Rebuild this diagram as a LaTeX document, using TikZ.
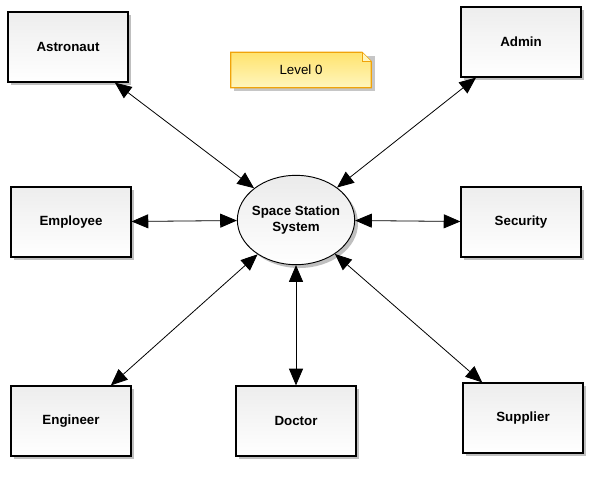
\documentclass[tikz,border=0pt]{standalone}
\usepackage{fontspec}
\setmainfont{Liberation Sans}
\usepackage{xcolor}
\usetikzlibrary{positioning,shapes.geometric,shadows,arrows.meta}

\definecolor{noteyellow}{HTML}{FFE36E}
\definecolor{notelight}{HTML}{FFF6BE}
\definecolor{noteorange}{HTML}{F0A30A}

\begin{document}
\begin{tikzpicture}[x=0.75pt, y=-0.75pt,
    entity/.style={rectangle, draw, line width=0.9pt, top color=gray!14, bottom color=white,
        minimum width=90pt, minimum height=52.5pt, font=\bfseries,
        drop shadow={shadow xshift=2.5pt, shadow yshift=-2.5pt, fill=gray, opacity=0.5}},
    process/.style={ellipse, draw, line width=0.7pt, top color=gray!16, bottom color=white,
        minimum width=88pt, minimum height=67pt, inner sep=-3.5pt, align=center, font=\bfseries,
        drop shadow={shadow xshift=2.5pt, shadow yshift=-2.5pt, fill=gray, opacity=0.5}},
    flow/.style={{Triangle[length=12.5pt,width=10.5pt]}-{Triangle[length=12.5pt,width=10.5pt]}, line width=0.6pt}]

    \useasboundingbox (0,0) rectangle (609,483);

    % context level note
    \node[minimum width=105pt, minimum height=26.25pt] (level) at (301,70) {};
    \fill[gray, opacity=0.45] ([shift={(2.5pt,-2.5pt)}]level.north west) -- ([shift={(2.5pt,-2.5pt)}]level.north east)
        -- ([shift={(2.5pt,-2.5pt)}]level.south east) -- ([shift={(2.5pt,-2.5pt)}]level.south west) -- cycle;
    \draw[noteorange, line width=0.9pt, top color=noteyellow, bottom color=notelight]
        (level.north west) -- ([xshift=-7pt]level.north east) -- ([yshift=-7pt]level.north east)
        -- (level.south east) -- (level.south west) -- cycle;
    \draw[noteorange, line width=0.6pt, fill=notelight]
        ([xshift=-7pt]level.north east) -- ([xshift=-7pt,yshift=-7pt]level.north east)
        -- ([yshift=-7pt]level.north east);
    \node (leveltext) at (level) {Level 0};

    % the system
    \node[process] (system) at (296,220) {Space Station\\System};

    % external entities
    \node[entity] (astronaut) at (68,47) {Astronaut};
    \node[entity] (admin) at (521,42) {Admin};
    \node[entity] (employee) at (71,222) {Employee};
    \node[entity] (security) at (521,222) {Security};
    \node[entity] (engineer) at (71,421) {Engineer};
    \node[entity] (doctor) at (296,421) {Doctor};
    \node[entity] (supplier) at (523,418) {Supplier};

    % data flows
    \foreach \ext in {astronaut, admin, employee, security, engineer, doctor, supplier}
        \draw[flow] (\ext) -- (system);
\end{tikzpicture}
\end{document}
